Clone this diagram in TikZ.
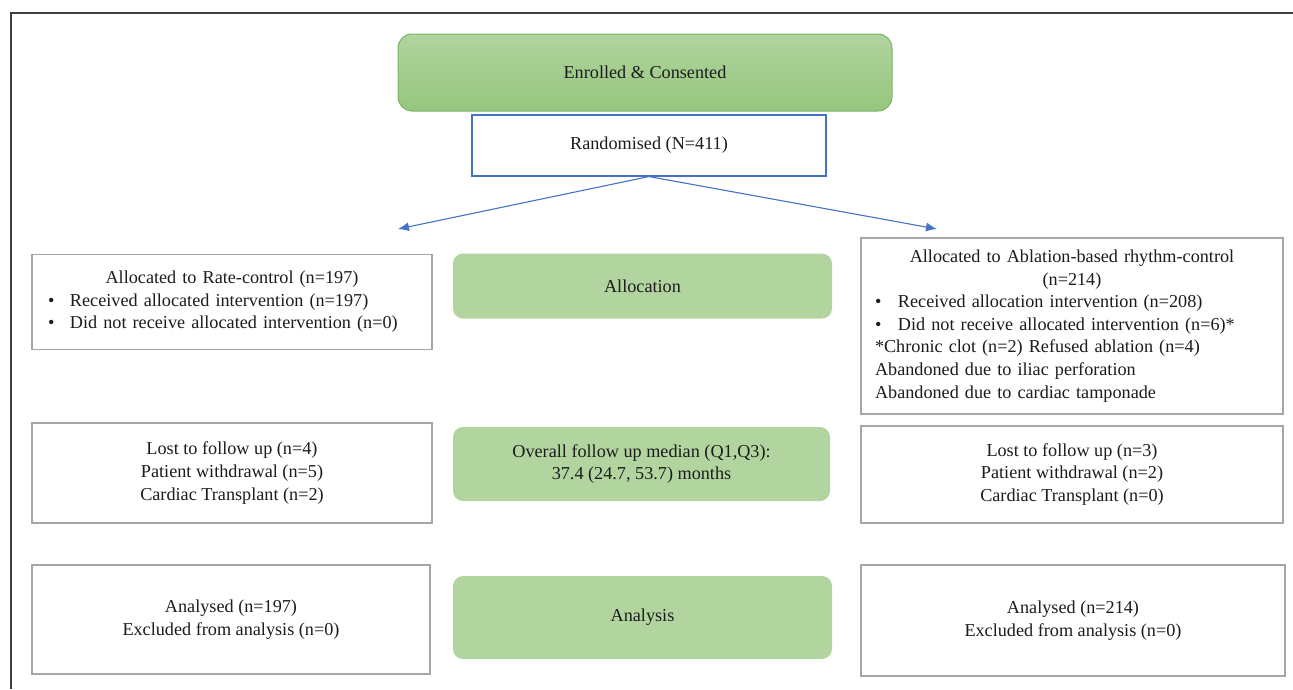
\documentclass[tikz,border=0pt]{standalone}
\usepackage{fontspec}
\setmainfont{Liberation Serif}
\usepackage{tikz}
\usetikzlibrary{arrows.meta}

\definecolor{framegray}{RGB}{64,64,64}
\definecolor{boxgray}{RGB}{166,166,166}
\definecolor{linkblue}{RGB}{68,114,196}
\definecolor{stagegreen}{RGB}{178,213,160}
\definecolor{topgreenA}{RGB}{176,212,158}
\definecolor{topgreenB}{RGB}{150,198,126}
\definecolor{topgreenline}{RGB}{126,180,104}
\definecolor{textdark}{RGB}{28,28,28}

\newcommand{\bulletpt}[1]{\makebox[#1][l]{\textbullet}}

\tikzset{
    whitebox/.style={draw=boxgray, line width=1.1pt, fill=white, inner sep=0pt, align=center},
    greenbox/.style={fill=stagegreen, rounded corners=10pt, inner sep=0pt, align=center},
    topbox/.style={draw=topgreenline, line width=1pt, top color=topgreenA, bottom color=topgreenB,
        rounded corners=14pt, inner sep=0pt, align=center},
    flowarrow/.style={draw=linkblue, line width=1.1pt, -{Latex[length=11pt,width=9pt]}},
}

\begin{document}
\begin{tikzpicture}[x=1pt, y=-1pt,
        every node/.style={font=\fontsize{18.2}{22.6}\selectfont, text=textdark}]
        \useasboundingbox (0,0) rectangle (1293,689);
        % frame
        \draw[framegray, line width=2.2pt] (11,689) -- (11,13) -- (1293,13);

        % Top
        \node[topbox, minimum width=494pt, minimum height=77pt] (1) at (645,72.5) {Enrolled \& Consented};
        \node[whitebox, draw=linkblue, minimum width=354pt, minimum height=61pt] (2) at (649,145.5) {Randomised (N=411)};

        \coordinate (l) at (398,229);
        \coordinate (r) at (937,229);
        \draw[flowarrow] (2.south) -- (l);
        \draw[flowarrow] (2.south) -- (r);

        % Allocation
        \node[whitebox, align=left, inner xsep=16pt, text width=368pt, minimum height=95pt] (3) at (232,302)
            {{\centering Allocated to Rate-control (n=197)\par}
             \bulletpt{22pt}Received allocated intervention (n=197)\\
             \bulletpt{22pt}Did not receive allocated intervention (n=0)};
        \node[greenbox, minimum width=379pt, minimum height=65pt] (4) at (642.5,286) {Allocation};
        \node[whitebox, align=left, inner xsep=14pt, text width=394pt, minimum height=176pt] (5) at (1072,326)
            {{\centering Allocated to Ablation-based rhythm-control\\ (n=214)\par}
             \bulletpt{23pt}Received allocation intervention (n=208)\\
             \bulletpt{23pt}Did not receive allocated intervention (n=6)*\\
             {*}Chronic clot (n=2) Refused ablation (n=4)\\
             Abandoned due to iliac perforation\\
             Abandoned due to cardiac tamponade};

        % Follow up
        \node[whitebox, minimum width=400pt, minimum height=100pt] (6) at (232,473)
            {Lost to follow up (n=4)\\ Patient withdrawal (n=5)\\ Cardiac Transplant (n=2)};
        \node[greenbox, minimum width=377pt, minimum height=74pt] (7) at (641.5,464)
            {Overall follow up median (Q1,Q3):\\ 37.4 (24.7, 53.7) months};
        \node[whitebox, minimum width=422pt, minimum height=97pt] (8) at (1072,474.5)
            {Lost to follow up (n=3)\\ Patient withdrawal (n=2)\\ Cardiac Transplant (n=0)};

        % Analysis
        \node[whitebox, minimum width=398pt, minimum height=109pt] (9) at (231,619.5)
            {Analysed (n=197)\\ Excluded from analysis (n=0)};
        \node[greenbox, minimum width=379pt, minimum height=83pt] (10) at (642.5,617.5) {Analysis};
        \node[whitebox, minimum width=424pt, minimum height=111pt] (11) at (1073,620.5)
            {Analysed (n=214)\\ Excluded from analysis (n=0)};
    \end{tikzpicture}
\end{document}
